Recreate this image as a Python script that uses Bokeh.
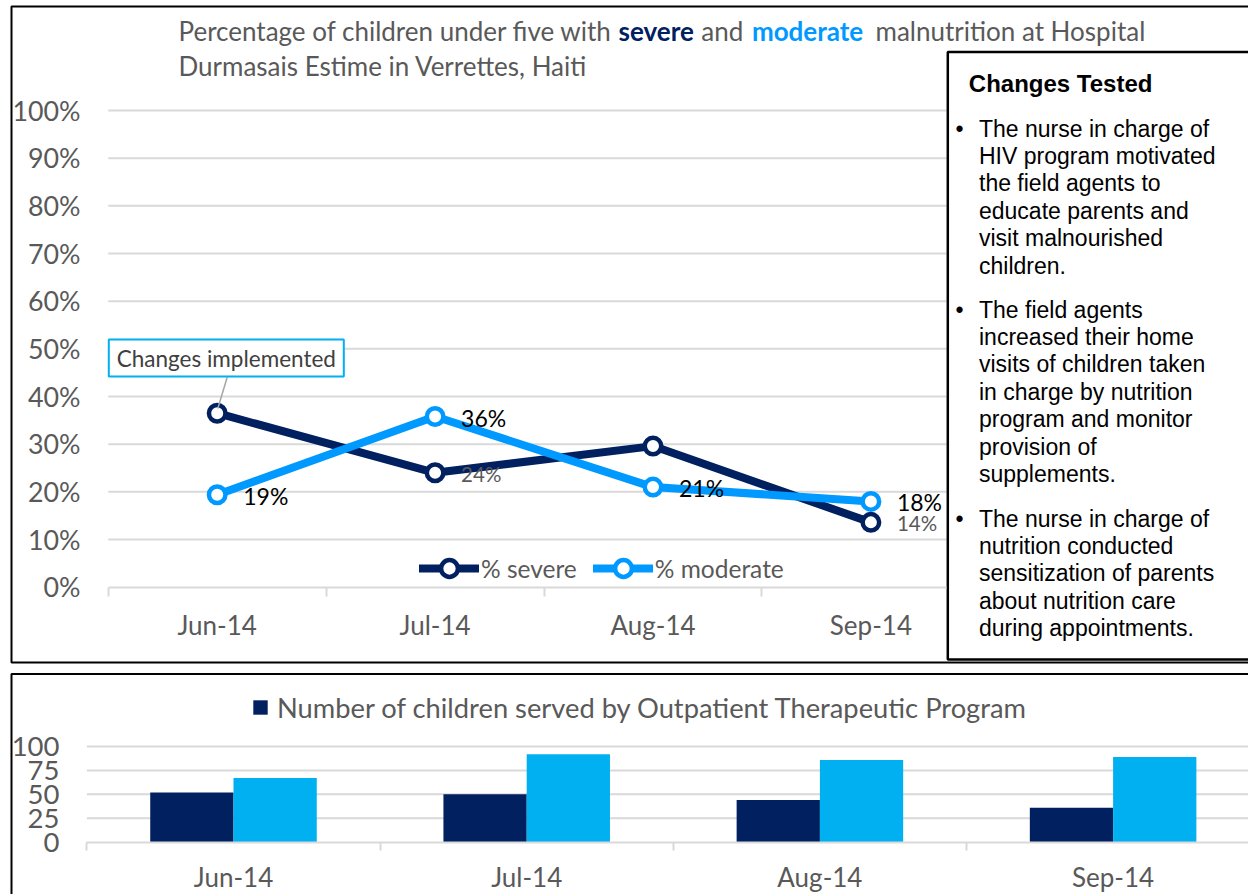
from bokeh.plotting import figure
from bokeh.layouts import column
from bokeh.models import Range1d, FixedTicker, PrintfTickFormatter, Legend, LegendItem
from bokeh.core.properties import value
from bokeh.embed import file_html
from bokeh.resources import INLINE

# ---------------- data ----------------
months = ["Jun-14", "Jul-14", "Aug-14", "Sep-14"]
pct_severe = [36.5, 24.0, 29.6, 13.6]
pct_moderate = [19.4, 35.8, 21.0, 18.0]
severe_labels = ["", "24%", "", "14%"]
moderate_labels = ["19%", "36%", "21%", "18%"]
pct_ticks = [0, 10, 20, 30, 40, 50, 60, 70, 80, 90, 100]

otp_severe = [52, 50, 44, 36]
otp_moderate = [67, 92, 86, 89]
count_ticks = [0, 25, 50, 75, 100]

title_line1 = ["Percentage of children under five with", "severe", "and", "moderate",
               "malnutrition at Hospital"]
title_line2 = "Durmasais Estime in Verrettes, Haiti"
callout_text = "Changes implemented"
box_heading = "Changes Tested"
bullets = [
    ["The nurse in charge of", "HIV program motivated", "the field agents to",
     "educate parents and", "visit malnourished", "children."],
    ["The field agents", "increased their home", "visits of children taken",
     "in charge by nutrition", "program and monitor", "provision of", "supplements."],
    ["The nurse in charge of", "nutrition conducted", "sensitization of parents",
     "about nutrition care", "during appointments."],
]
legend_bottom = "Number of children served by Outpatient Therapeutic Program"

# ---------------- styles ----------------
NAVY = "#002060"
BLUE = "#0099ff"
BAR_BLUE = "#00b0f0"
GREY = "#595959"
GRID = "#d9d9d9"
FONT = "Lato"

W = 1248
H1 = 664
GAP = 8
H2 = 222
idx = list(range(len(months)))


# page pixel -> data helpers for the top chart
def X1(px):
    return (px - 216.7) / 217.9


def Y1(py):
    return (586.7 - py) / 4.767


p1 = figure(width=W, height=H1, output_backend="svg", toolbar_location=None,
            x_range=Range1d(X1(0), X1(W)), y_range=Range1d(Y1(H1), Y1(0)),
            min_border=0, min_border_left=0, min_border_right=0, min_border_top=0,
            min_border_bottom=0, outline_line_color=None)
p1.xgrid.visible = False
p1.ygrid.visible = False

# axes
xa = p1.xaxis[0]
xa.fixed_location = 0
xa.bounds = (-0.5, X1(946))
xa.ticker = FixedTicker(ticks=idx, minor_ticks=[-0.5, 0.5, 1.5, 2.5])
xa.major_label_overrides = {i: m for i, m in enumerate(months)}
xa.axis_line_color = GRID
xa.axis_line_width = 2
xa.major_tick_line_color = None
xa.major_tick_out = 0
xa.major_tick_in = 0
xa.minor_tick_out = 9
xa.minor_tick_in = 0
xa.minor_tick_line_color = GRID
xa.minor_tick_line_width = 2
xa.major_label_standoff = 13
xa.major_label_text_font = FONT
xa.major_label_text_font_size = "26px"
xa.major_label_text_color = GREY

ya = p1.yaxis[0]
ya.fixed_location = X1(86)
ya.ticker = FixedTicker(ticks=pct_ticks, minor_ticks=[])
ya.formatter = PrintfTickFormatter(format="%d%%")
ya.axis_line_color = None
ya.major_tick_line_color = None
ya.minor_tick_line_color = None
ya.major_tick_out = 0
ya.major_tick_in = 0
ya.major_label_standoff = 6
ya.major_label_text_font = FONT
ya.major_label_text_font_size = "26.8px"
ya.major_label_text_color = GREY

# outer chart border (open to the right)
p1.quad(left=X1(11), right=X1(1400), top=Y1(6), bottom=Y1(662),
        fill_color=None, line_color="black", line_width=2)

# gridlines
p1.segment(x0=-0.5, x1=X1(946), y0=pct_ticks[1:], y1=pct_ticks[1:],
           line_color=GRID, line_width=2)

# series
l_sev = p1.line(idx, pct_severe, line_color=NAVY, line_width=8, line_join="round", line_cap="round")
s_sev = p1.scatter(idx, pct_severe, marker="circle", size=16.5, fill_color="white",
                   line_color=NAVY, line_width=4.5)
l_mod = p1.line(idx, pct_moderate, line_color=BLUE, line_width=8, line_join="round", line_cap="round")
s_mod = p1.scatter(idx, pct_moderate, marker="circle", size=16.5, fill_color="white",
                   line_color=BLUE, line_width=4.5)

# data labels
p1.text(x=idx, y=pct_moderate, text=moderate_labels, x_offset=26, y_offset=1,
        text_font=value(FONT), text_font_size="23px", text_color="black",
        text_align="left", text_baseline="middle")
p1.text(x=idx, y=pct_severe, text=severe_labels, x_offset=26, y_offset=1,
        text_font=value(FONT), text_font_size="20.5px", text_color=GREY,
        text_align="left", text_baseline="middle")

# callout
p1.segment(x0=X1(226.7), y0=Y1(376.7), x1=X1(217.3), y1=Y1(408),
           line_color="#a6a6a6", line_width=1.5)
p1.quad(left=X1(108.3), right=X1(343.3), top=Y1(339), bottom=Y1(376),
        fill_color="white", line_color=BAR_BLUE, line_width=2)
p1.text(x=[X1(225.8)], y=[Y1(357.5)], text=[callout_text], text_font=value(FONT),
        text_font_size="22.5px", text_color="#404040", text_align="center",
        text_baseline="middle")

# title (rich text)
t_x = [178, 618, 700.8, 751.4, 875]
t_color = [GREY, NAVY, GREY, BLUE, GREY]
t_style = ["normal", "bold", "normal", "bold", "normal"]
for part, px, c, st in zip(title_line1, t_x, t_color, t_style):
    p1.text(x=[X1(px)], y=[Y1(30)], text=[part], text_font=value(FONT),
            text_font_size="26px", text_color=c, text_font_style=st,
            text_align="left", text_baseline="middle")
p1.text(x=[X1(178)], y=[Y1(65)], text=[title_line2], text_font=value(FONT),
        text_font_size="26px", text_color=GREY, text_align="left", text_baseline="middle")

# legend
leg1 = Legend(items=[LegendItem(label="% severe", renderers=[l_sev, s_sev]),
                     LegendItem(label="% moderate", renderers=[l_mod, s_mod])],
              orientation="horizontal", location=(419, 74.7), glyph_width=60, glyph_height=42,
              label_standoff=2, spacing=16, padding=0, margin=0, border_line_color=None,
              background_fill_alpha=0, label_text_font=FONT, label_text_font_size="24.5px",
              label_text_color=GREY)
p1.add_layout(leg1)

# text box "Changes Tested"
p1.quad(left=X1(947.3), right=X1(1400), top=Y1(51.5), bottom=Y1(659),
        fill_color="white", line_color="black", line_width=2.5)
p1.text(x=[X1(968.3)], y=[Y1(83)], text=[box_heading], text_font=value("Liberation Sans"),
        text_font_size="24px", text_font_style="bold", text_color="black",
        text_align="left", text_baseline="middle")
para_start = [128, 309, 518]
step = 27.4
for lines, y0 in zip(bullets, para_start):
    ys = [Y1(y0 + i * step) for i in range(len(lines))]
    p1.text(x=[X1(978.5)] * len(lines), y=ys, text=lines, text_font=value("Liberation Sans"),
            text_font_size="23px", text_color="black", text_align="left",
            text_baseline="middle")
    p1.text(x=[X1(955)], y=[Y1(y0)], text=["\u2022"], text_font=value("Liberation Sans"),
            text_font_size="23px", text_color="black", text_align="left",
            text_baseline="middle")


# ---------------- bottom chart ----------------
TOP2 = H1 + GAP


def X2(px):
    return (px - 233.0) / 293.2


def Y2(py):
    return (841.7 - py) / 0.957


p2 = figure(width=W, height=H2, output_backend="svg", toolbar_location=None,
            x_range=Range1d(X2(0), X2(W)), y_range=Range1d(Y2(TOP2 + H2), Y2(TOP2)),
            min_border=0, min_border_left=0, min_border_right=0, min_border_top=0,
            min_border_bottom=0, outline_line_color=None)
p2.xgrid.visible = False
p2.ygrid.visible = False

p2.quad(left=X2(11), right=X2(1400), top=Y2(673.5), bottom=Y2(1000),
        fill_color=None, line_color="black", line_width=2)
p2.segment(x0=-0.5, x1=X2(1400), y0=count_ticks[1:], y1=count_ticks[1:],
           line_color=GRID, line_width=2)

bw = 0.284
b_sev = p2.vbar(x=[i - bw / 2 for i in idx], top=otp_severe, width=bw, bottom=0,
                fill_color=NAVY, line_color=None)
b_mod = p2.vbar(x=[i + bw / 2 for i in idx], top=otp_moderate, width=bw, bottom=0,
                fill_color=BAR_BLUE, line_color=None)

xb = p2.xaxis[0]
xb.fixed_location = 0
xb.bounds = (-0.5, X2(1400))
xb.ticker = FixedTicker(ticks=idx, minor_ticks=[-0.5, 0.5, 1.5, 2.5])
xb.major_label_overrides = {i: m for i, m in enumerate(months)}
xb.axis_line_color = GRID
xb.axis_line_width = 2
xb.major_tick_line_color = None
xb.major_tick_out = 0
xb.major_tick_in = 0
xb.minor_tick_out = 8
xb.minor_tick_in = 0
xb.minor_tick_line_color = GRID
xb.minor_tick_line_width = 2
xb.major_label_standoff = 11
xb.major_label_text_font = FONT
xb.major_label_text_font_size = "26px"
xb.major_label_text_color = GREY

yb = p2.yaxis[0]
yb.fixed_location = X2(65)
yb.ticker = FixedTicker(ticks=count_ticks, minor_ticks=[])
yb.axis_line_color = None
yb.major_tick_line_color = None
yb.minor_tick_line_color = None
yb.major_tick_out = 0
yb.major_tick_in = 0
yb.major_label_standoff = 6
yb.major_label_text_font = FONT
yb.major_label_text_font_size = "27.5px"
yb.major_label_text_color = GREY

leg2 = Legend(items=[LegendItem(label=legend_bottom, renderers=[b_sev])],
              location=(251, 170.5), glyph_width=18, glyph_height=18, label_standoff=8,
              padding=0, margin=0, border_line_color=None, background_fill_alpha=0,
              label_text_font=FONT, label_text_font_size="27.3px", label_text_color=GREY)
p2.add_layout(leg2)

layout = column(p1, p2, spacing=GAP)
open("out.html", "w").write(file_html(layout, INLINE))
